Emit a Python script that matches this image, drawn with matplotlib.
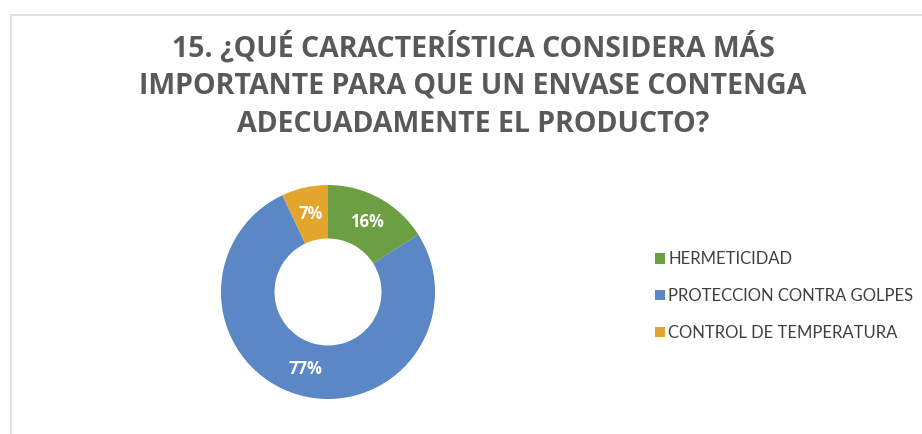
import matplotlib
matplotlib.use("Agg")
import matplotlib.pyplot as plt
from matplotlib.lines import Line2D

TITLE_LINES = [
    "15. ¿QUÉ CARACTERÍSTICA CONSIDERA MÁS",
    "IMPORTANTE PARA QUE UN ENVASE CONTENGA",
    "ADECUADAMENTE EL PRODUCTO?",
]
CATEGORIES = ["HERMETICIDAD", "PROTECCION CONTRA GOLPES", "CONTROL DE TEMPERATURA"]
VALUES = [16, 77, 7]
COLORS = ["#6c9f43", "#5b87c6", "#e4a52f"]

W, H = 922, 434
fig = plt.figure(figsize=(W / 100, H / 100), dpi=100)
fig.patch.set_facecolor("white")

# faint chart-area border (left and top only visible)
fig.add_artist(Line2D([11 / W, 11 / W], [0, 1 - 15 / H], transform=fig.transFigure, color="#dcdcdc", lw=1.2))
fig.add_artist(Line2D([11 / W, 1], [1 - 15 / H, 1 - 15 / H], transform=fig.transFigure, color="#dcdcdc", lw=1.2))

for i, line in enumerate(TITLE_LINES):
    fig.text(473 / W, 1 - (47 + 39 * i) / H, line, ha="center", va="center",
             fontsize=20.5, fontweight="bold", family="Open Sans", color="#595959")

cx, cy, r = 328, 292, 107
ax = fig.add_axes([(cx - r) / W, (H - cy - r) / H, 2 * r / W, 2 * r / H])
wedges, _, autotexts = ax.pie(
    VALUES, colors=COLORS, startangle=90, counterclock=False, radius=1,
    autopct=lambda p: f"{p:.0f}%", pctdistance=0.75,
    wedgeprops=dict(width=0.5, linewidth=0),
)
for t in autotexts:
    t.set_color("white")
    t.set_fontweight("bold")
    t.set_fontsize(12)
    t.set_family("Open Sans")
ax.set_xlim(-1, 1)
ax.set_ylim(-1, 1)
ax.set_aspect("equal")
ax.axis("off")

fig.legend(wedges, CATEGORIES, loc="center left", bbox_to_anchor=(655 / W, 1 - 296 / H),
           bbox_transform=fig.transFigure, frameon=False, handlelength=0.6, handleheight=0.6,
           handletextpad=0.2, labelspacing=1.25, borderaxespad=0, borderpad=0,
           prop={"family": "Lato", "size": 12}, labelcolor="#404040")

fig.savefig("out.png", dpi=100, facecolor="white")
